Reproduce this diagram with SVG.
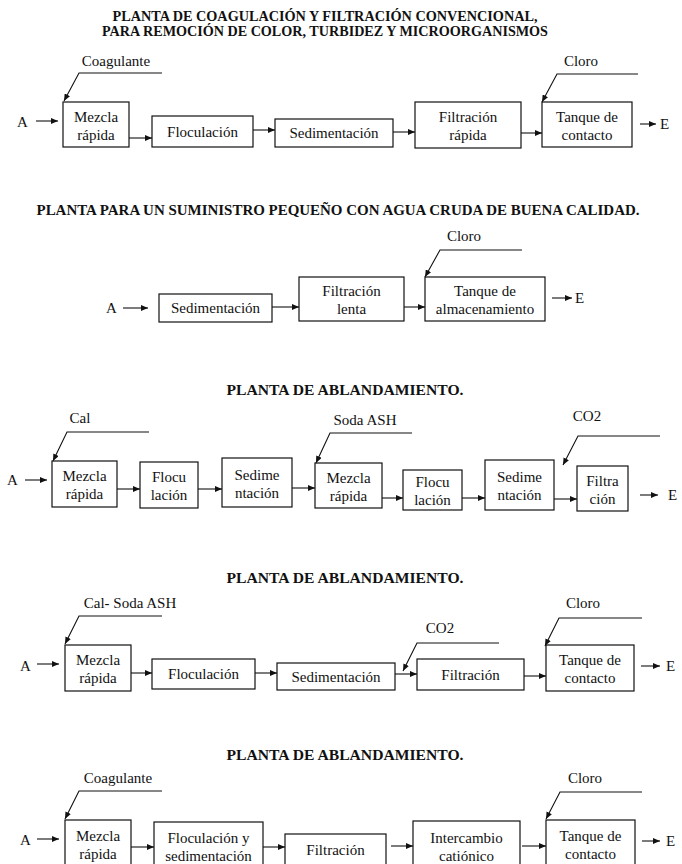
<svg xmlns="http://www.w3.org/2000/svg" width="682" height="864" viewBox="0 0 682 864">
<style>
.bg{fill:#fff}
.box{fill:#fff;stroke:#111;stroke-width:1.2}
.t,.ts,.h{font-family:'Liberation Serif','Times New Roman',Tinos,'DejaVu Serif','Noto Serif',serif}
.t{font-size:15px;fill:#111;text-anchor:middle}
.ts{font-size:15px;fill:#111}
.h{font-size:14px;font-weight:bold;fill:#111;text-anchor:middle}
.c{fill:none;stroke:#111;stroke-width:1.1;marker-end:url(#ah)}
</style>
<defs>
<marker id="ah" markerWidth="8" markerHeight="6" refX="7" refY="3" orient="auto" markerUnits="userSpaceOnUse"><path d="M0,0 L7,3 L0,6 z" fill="#111"/></marker>
</defs>
<rect class="bg" x="0" y="0" width="682" height="864"/>

<!-- Titles -->
<g id="titles">
<text class="h" x="325" y="21" textLength="425" lengthAdjust="spacingAndGlyphs">PLANTA DE COAGULACIÓN Y FILTRACIÓN CONVENCIONAL,</text>
<text class="h" x="325" y="36" textLength="446" lengthAdjust="spacingAndGlyphs">PARA REMOCIÓN DE COLOR, TURBIDEZ Y MICROORGANISMOS</text>
<text class="h" x="338" y="215" textLength="603" lengthAdjust="spacingAndGlyphs">PLANTA PARA UN SUMINISTRO PEQUEÑO CON AGUA CRUDA DE BUENA CALIDAD.</text>
<text class="h" x="345" y="395" textLength="237" lengthAdjust="spacingAndGlyphs">PLANTA DE ABLANDAMIENTO.</text>
<text class="h" x="345" y="583" textLength="237" lengthAdjust="spacingAndGlyphs">PLANTA DE ABLANDAMIENTO.</text>
<text class="h" x="345" y="760" textLength="237" lengthAdjust="spacingAndGlyphs">PLANTA DE ABLANDAMIENTO.</text>
</g>

<!-- Section 1 -->
<g id="s1-A"><text class="ts" x="17" y="127">A</text></g>
<g id="s1-E"><text class="ts" x="660" y="129">E</text></g>
<g id="s1-coag"><text class="t" x="116" y="66">Coagulante</text></g>
<g id="s1-cloro"><text class="t" x="581" y="66">Cloro</text></g>
<g id="s1-mezcla"><rect class="box" x="63" y="102" width="66" height="45"/><text class="t" x="96" y="121.5">Mezcla</text><text class="t" x="96" y="139.5">rápida</text></g>
<g id="s1-floc"><rect class="box" x="152" y="116" width="101" height="31"/><text class="t" x="202.5" y="136.5">Floculación</text></g>
<g id="s1-sed"><rect class="box" x="275" y="119" width="118" height="28"/><text class="t" x="334" y="138">Sedimentación</text></g>
<g id="s1-filt"><rect class="box" x="415" y="102" width="106" height="46"/><text class="t" x="468" y="122">Filtración</text><text class="t" x="468" y="140">rápida</text></g>
<g id="s1-tanque"><rect class="box" x="542" y="102" width="90" height="45"/><text class="t" x="587" y="121.5">Tanque de</text><text class="t" x="587" y="139.5">contacto</text></g>

<!-- Section 2 -->
<g id="s2-A"><text class="ts" x="106" y="313">A</text></g>
<g id="s2-E"><text class="ts" x="575" y="303">E</text></g>
<g id="s2-cloro"><text class="t" x="464" y="241">Cloro</text></g>
<g id="s2-sed"><rect class="box" x="159" y="294" width="113" height="28"/><text class="t" x="215.5" y="313">Sedimentación</text></g>
<g id="s2-filt"><rect class="box" x="299" y="277" width="105" height="44"/><text class="t" x="351.5" y="296">Filtración</text><text class="t" x="351.5" y="314">lenta</text></g>
<g id="s2-tanque"><rect class="box" x="425" y="277" width="120" height="44"/><text class="t" x="485" y="296">Tanque de</text><text class="t" x="485" y="314">almacenamiento</text></g>

<!-- Section 3 -->
<g id="s3-A"><text class="ts" x="7" y="485">A</text></g>
<g id="s3-E"><text class="ts" x="668" y="500">E</text></g>
<g id="s3-cal"><text class="t" x="80" y="423">Cal</text></g>
<g id="s3-soda"><text class="t" x="365" y="425">Soda ASH</text></g>
<g id="s3-co2"><text class="t" x="587" y="421">CO2</text></g>
<g id="s3-mezcla1"><rect class="box" x="52" y="461" width="65" height="46"/><text class="t" x="84.5" y="481">Mezcla</text><text class="t" x="84.5" y="499">rápida</text></g>
<g id="s3-floc1"><rect class="box" x="140" y="462" width="58" height="46"/><text class="t" x="169" y="482">Flocu</text><text class="t" x="169" y="500">lación</text></g>
<g id="s3-sed1"><rect class="box" x="222" y="458" width="70" height="49"/><text class="t" x="257" y="479.5">Sedime</text><text class="t" x="257" y="497.5">ntación</text></g>
<g id="s3-mezcla2"><rect class="box" x="315" y="463" width="67" height="45"/><text class="t" x="348.5" y="482.5">Mezcla</text><text class="t" x="348.5" y="500.5">rápida</text></g>
<g id="s3-floc2"><rect class="box" x="403" y="470" width="59" height="40"/><text class="t" x="432.5" y="487">Flocu</text><text class="t" x="432.5" y="505">lación</text></g>
<g id="s3-sed2"><rect class="box" x="485" y="460" width="69" height="50"/><text class="t" x="519.5" y="482">Sedime</text><text class="t" x="519.5" y="500">ntación</text></g>
<g id="s3-filt"><rect class="box" x="577" y="466" width="51" height="45"/><text class="t" x="602.5" y="485.5">Filtra</text><text class="t" x="602.5" y="503.5">ción</text></g>

<!-- Section 4 -->
<g id="s4-A"><text class="ts" x="20" y="671">A</text></g>
<g id="s4-E"><text class="ts" x="666" y="671">E</text></g>
<g id="s4-calsoda"><text class="t" x="130" y="608">Cal- Soda ASH</text></g>
<g id="s4-co2"><text class="t" x="440" y="633">CO2</text></g>
<g id="s4-cloro"><text class="t" x="583" y="608">Cloro</text></g>
<g id="s4-mezcla"><rect class="box" x="65" y="645" width="66" height="46"/><text class="t" x="98" y="665">Mezcla</text><text class="t" x="98" y="683">rápida</text></g>
<g id="s4-floc"><rect class="box" x="152" y="659" width="103" height="30"/><text class="t" x="203.5" y="679">Floculación</text></g>
<g id="s4-sed"><rect class="box" x="277" y="663" width="118" height="27"/><text class="t" x="336" y="681.5">Sedimentación</text></g>
<g id="s4-filt"><rect class="box" x="417" y="659" width="107" height="31"/><text class="t" x="470.5" y="679.5">Filtración</text></g>
<g id="s4-tanque"><rect class="box" x="546" y="645" width="88" height="46"/><text class="t" x="590" y="665">Tanque de</text><text class="t" x="590" y="683">contacto</text></g>

<!-- Section 5 -->
<g id="s5-A"><text class="ts" x="20" y="845">A</text></g>
<g id="s5-E"><text class="ts" x="666" y="846">E</text></g>
<g id="s5-coag"><text class="t" x="118" y="783">Coagulante</text></g>
<g id="s5-cloro"><text class="t" x="585" y="783">Cloro</text></g>
<g id="s5-mezcla"><rect class="box" x="65" y="820" width="66" height="50"/><text class="t" x="98" y="841">Mezcla</text><text class="t" x="98" y="859">rápida</text></g>
<g id="s5-flocsed"><rect class="box" x="154" y="822" width="109" height="48"/><text class="t" x="208.5" y="843">Floculación y</text><text class="t" x="208.5" y="861">sedimentación</text></g>
<g id="s5-filt"><rect class="box" x="285" y="834" width="101" height="36"/><text class="t" x="335.5" y="855">Filtración</text></g>
<g id="s5-interc"><rect class="box" x="413" y="821" width="107" height="49"/><text class="t" x="466.5" y="843">Intercambio</text><text class="t" x="466.5" y="861">catiónico</text></g>
<g id="s5-tanque"><rect class="box" x="546" y="820" width="89" height="50"/><text class="t" x="590.5" y="841">Tanque de</text><text class="t" x="590.5" y="859">contacto</text></g>

<!-- Connectors -->
<g id="connectors">
<line class="c" x1="36" y1="121" x2="58" y2="121"/>
<line class="c" x1="129" y1="138" x2="152" y2="138"/>
<line class="c" x1="253" y1="130" x2="275" y2="130"/>
<line class="c" x1="393" y1="132" x2="415" y2="132"/>
<line class="c" x1="521" y1="133" x2="542" y2="133"/>
<line class="c" x1="640" y1="124" x2="656" y2="124"/>
<polyline class="c" points="162,73 79,73 64,101"/>
<polyline class="c" points="638,74 557,74 542,102"/>
<line class="c" x1="123" y1="308" x2="148" y2="308"/>
<line class="c" x1="272" y1="307" x2="299" y2="307"/>
<line class="c" x1="404" y1="307" x2="425" y2="307"/>
<line class="c" x1="552" y1="298" x2="572" y2="298"/>
<polyline class="c" points="522,250 440,250 425,277"/>
<line class="c" x1="25" y1="480" x2="47" y2="480"/>
<line class="c" x1="117" y1="489" x2="140" y2="489"/>
<line class="c" x1="198" y1="489" x2="222" y2="489"/>
<line class="c" x1="292" y1="488" x2="315" y2="488"/>
<line class="c" x1="382" y1="498" x2="403" y2="498"/>
<line class="c" x1="462" y1="498" x2="485" y2="498"/>
<line class="c" x1="554" y1="499" x2="577" y2="499"/>
<line class="c" x1="640" y1="495" x2="658" y2="495"/>
<polyline class="c" points="149,432 67,432 53,461"/>
<polyline class="c" points="412,433 330,433 316,463"/>
<polyline class="c" points="660,436 578,436 563,465"/>
<line class="c" x1="37" y1="664" x2="59" y2="664"/>
<line class="c" x1="131" y1="673" x2="152" y2="673"/>
<line class="c" x1="255" y1="673" x2="277" y2="673"/>
<line class="c" x1="395" y1="674" x2="417" y2="674"/>
<line class="c" x1="524" y1="676" x2="546" y2="676"/>
<line class="c" x1="641" y1="666" x2="660" y2="666"/>
<polyline class="c" points="162,616 79,616 65,644"/>
<polyline class="c" points="499,643 417,643 403,671"/>
<polyline class="c" points="642,618 559,618 545,646"/>
<line class="c" x1="37" y1="839" x2="59" y2="839"/>
<line class="c" x1="131" y1="847" x2="154" y2="847"/>
<line class="c" x1="263" y1="847" x2="285" y2="847"/>
<line class="c" x1="391" y1="846" x2="413" y2="846"/>
<line class="c" x1="522" y1="846" x2="546" y2="846"/>
<line class="c" x1="642" y1="841" x2="660" y2="841"/>
<polyline class="c" points="162,791 79,791 65,819"/>
<polyline class="c" points="642,792 560,792 546,819"/>
</g>
</svg>
